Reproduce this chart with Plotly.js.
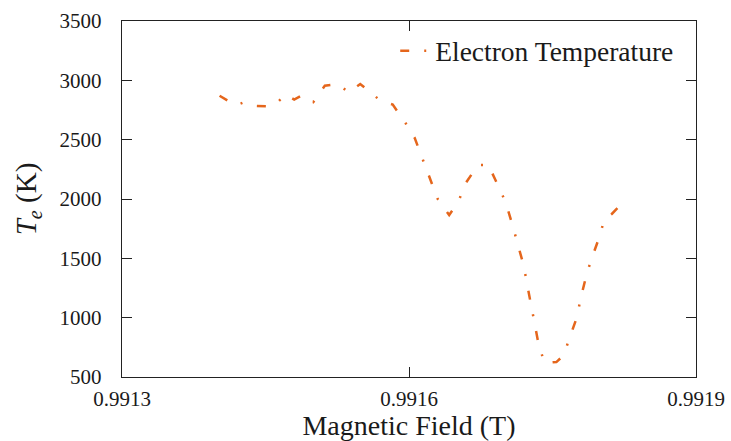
<!DOCTYPE html>
<html>
<head>
<meta charset="utf-8">
<script src="https://cdn.plot.ly/plotly-3.0.1.min.js"></script>
<style>html,body{margin:0;padding:0;background:#fff;}#chart{width:731px;height:441px;}</style>
</head>
<body>
<div id="chart"></div>
<script>
// Magnetic field (T)
var fieldValues = [0.991402, 0.991419, 0.991427, 0.991440, 0.991455, 0.991461, 0.991471, 0.991480, 0.991488, 0.991500,
  0.991512, 0.991526, 0.991537, 0.991549, 0.991570, 0.991583, 0.991597, 0.991606, 0.991615, 0.991622,
  0.991630, 0.991642, 0.991652, 0.991658, 0.991672, 0.991683, 0.991694, 0.991701, 0.991709, 0.991713,
  0.991720, 0.991723, 0.991728, 0.991731, 0.991736, 0.991742, 0.991754, 0.991762, 0.991767, 0.991776,
  0.991779, 0.991785, 0.991790, 0.991799, 0.991804, 0.991812, 0.991821];
// Electron temperature (K)
var tempValues = [2870, 2788, 2813, 2784, 2780, 2801, 2882, 2838, 2874, 2817,
  2955, 2969, 2897, 2969, 2830, 2796, 2632, 2514, 2320, 2177,
  2000, 1865, 1983, 2118, 2287, 2287, 2093, 1975, 1756, 1638,
  1435, 1301, 1098, 963, 753, 618, 626, 685, 812, 1014,
  1149, 1343, 1478, 1680, 1823, 1874, 1949];
var seriesName = "Electron Temperature";
var xTickVals = [0.9913, 0.9916, 0.9919];
var xTickText = ["0.9913", "0.9916", "0.9919"];
var yTickVals = [500, 1000, 1500, 2000, 2500, 3000, 3500];
var yTickText = ["500", "1000", "1500", "2000", "2500", "3000", "3500"];

var serif = "Liberation Serif";
var trace = {
  x: fieldValues, y: tempValues, type: "scatter", mode: "lines", name: seriesName,
  line: {color: "#e5661c", width: 2.5, dash: "9px,15px,2px,15px"}
};
var axisCommon = {
  showgrid: false, zeroline: false, showline: true, linecolor: "#222", linewidth: 1.3,
  mirror: "ticks", ticks: "inside", ticklen: 10, tickwidth: 1, tickcolor: "#222",
  tickfont: {family: serif, size: 21, color: "#1a1a1a"}
};
var layout = {
  width: 731, height: 441,
  margin: {l: 122, r: 35, t: 21, b: 64},
  paper_bgcolor: "#fff", plot_bgcolor: "#fff",
  font: {family: serif},
  showlegend: true,
  legend: {x: 0.476, xanchor: "left", y: 0.985, yanchor: "top", bgcolor: "rgba(0,0,0,0)",
    font: {family: serif, size: 27.5, color: "#1a1a1a"}},
  xaxis: Object.assign({}, axisCommon, {
    range: [0.9913, 0.9919], tickmode: "array", tickvals: xTickVals, ticktext: xTickText,
    ticklabelstandoff: 2,
    title: {text: "Magnetic Field (T)", font: {family: serif, size: 28, color: "#1a1a1a"}, standoff: 3}
  }),
  yaxis: Object.assign({}, axisCommon, {
    range: [500, 3500], tickmode: "array", tickvals: yTickVals, ticktext: yTickText,
    ticklabelstandoff: 15,
    title: {text: "<i>T</i><sub><i>e</i></sub> (K)", font: {family: serif, size: 29, color: "#1a1a1a"}, standoff: 14}
  })
};
Plotly.newPlot("chart", [trace], layout, {displayModeBar: false, staticPlot: true});
</script>
</body>
</html>
